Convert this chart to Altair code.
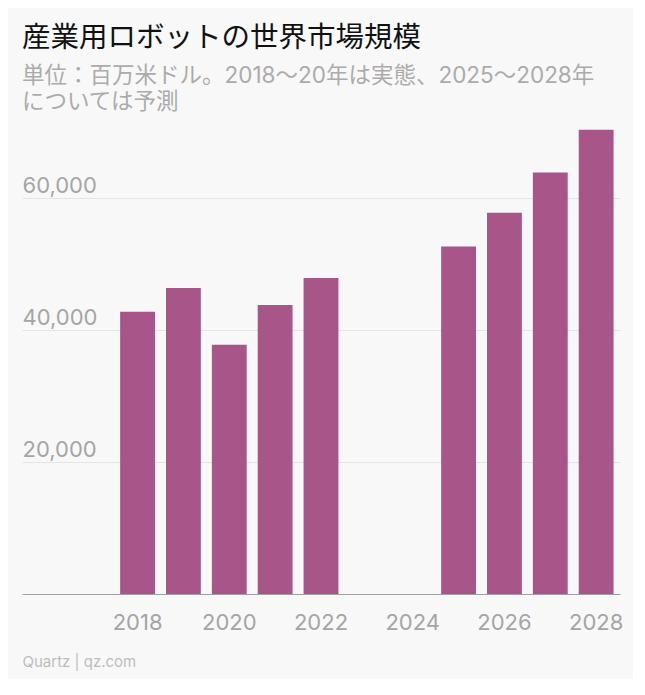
import altair as alt
import pandas as pd

years = ["2018", "2019", "2020", "2021", "2022", "2025", "2026", "2027", "2028"]
values = [42800, 46400, 37800, 43800, 47900, 52700, 57800, 63900, 70400]
year_domain = [str(y) for y in range(2016, 2029)]
x_tick_labels = ["2018", "2020", "2022", "2024", "2026", "2028"]
y_ticks = [20000, 40000, 60000]

df = pd.DataFrame({"year": years, "value": values})

title = alt.TitleParams(
    text="産業用ロボットの世界市場規模",
    subtitle=["単位：百万米ドル。2018〜20年は実態、2025〜2028年", "については予測"],
    anchor="start",
    frame="group",
    font="Noto Sans CJK JP",
    fontSize=28.5,
    fontWeight="normal",
    color="#111111",
    subtitleFont="Inter, Noto Sans CJK JP",
    subtitleFontSize=22.5,
    subtitleColor="#ABABAB",
    subtitleLineHeight=26,
    subtitlePadding=12,
    offset=16,
)

chart = (
    alt.Chart(df, title=title)
    .mark_bar(color="#A8558A")
    .encode(
        x=alt.X(
            "year:N",
            scale=alt.Scale(domain=year_domain, paddingInner=0.24, paddingOuter=0.14),
            axis=alt.Axis(
                values=x_tick_labels,
                labelAngle=0,
                ticks=False,
                tickSize=0,
                labelPadding=18,
                labelFont="Inter",
                labelFontSize=22,
                labelColor="#A5A5A5",
                domainColor="#A0A0A0",
                domainWidth=1.2,
                grid=False,
                title="Quartz | qz.com",
                titleAnchor="start",
                titleAlign="left",
                titleX=0,
                titleY=72,
                titleBaseline="alphabetic",
                titleFont="Inter",
                titleFontSize=15,
                titleFontWeight="normal",
                titleColor="#BDBDBD",
            ),
        ),
        y=alt.Y(
            "value:Q",
            scale=alt.Scale(domain=[0, 70500], nice=False),
            axis=alt.Axis(
                values=y_ticks,
                format=",.0f",
                domain=False,
                ticks=False,
                tickSize=0,
                grid=True,
                gridColor="#E4E4E4",
                labelAlign="left",
                labelBaseline="alphabetic",
                labelPadding=0,
                labelOffset=-6,
                labelFont="Inter",
                labelFontSize=22,
                labelColor="#A5A5A5",
                title=None,
            ),
        ),
    )
    .properties(
        width=598,
        height=465,
        background="#F8F8F8",
        padding={"left": 14, "top": 16, "right": 10, "bottom": 10},
    )
    .configure_view(stroke=None)
)

chart.save("out.html", embed_options={"renderer": "svg", "actions": False})
